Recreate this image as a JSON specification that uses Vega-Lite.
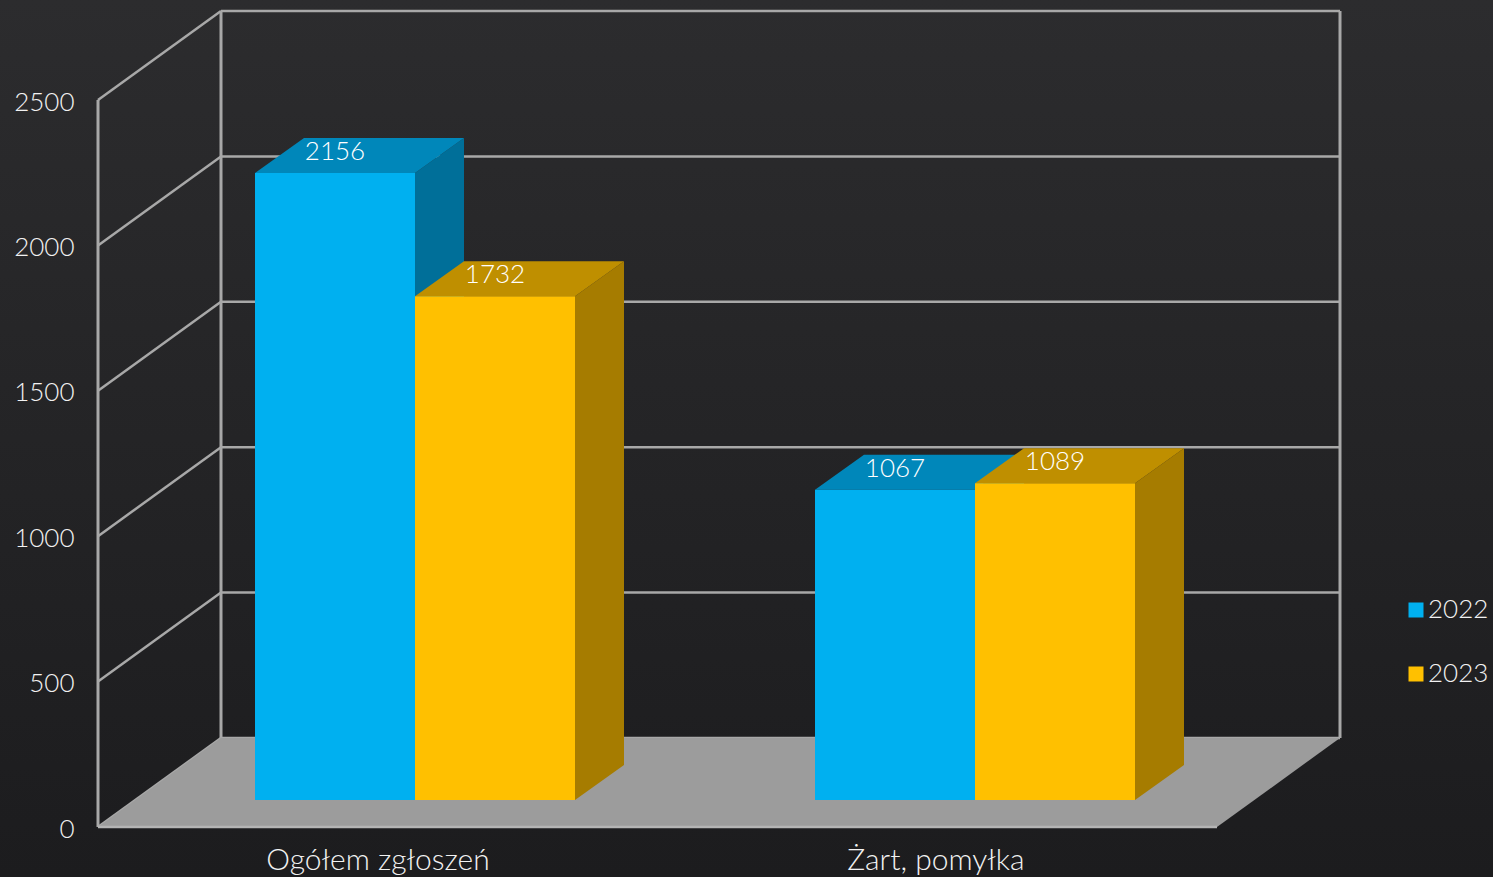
{"$schema":"https://vega.github.io/schema/vega-lite/v6.json","width":1493,"height":877,"padding":0,"autosize":{"type":"none"},"background":"#242426",
"config":{"view":{"stroke":null,"fill":{"gradient":"linear","x1":0,"y1":0,"x2":0,"y2":1,"stops":[{"offset":0,"color":"#2c2c2e"},{"offset":1,"color":"#1c1c1e"}]}},"axisY":{"orient":"left","offset":-74,"domain":false,"ticks":false,"grid":false,"labelPadding":0,"labelOffset":2,"labelFont":"Lato","labelFontWeight":300,"labelFontSize":26,"labelColor":"#f2f2f2","format":"d"}},
"datasets":{"bars":[{"category":"Ogółem zgłoszeń","year":"2022","value":2156},{"category":"Ogółem zgłoszeń","year":"2023","value":1732},{"category":"Żart, pomyłka","year":"2022","value":1067},{"category":"Żart, pomyłka","year":"2023","value":1089}],"ticks":[{"tick":0},{"tick":500},{"tick":1000},{"tick":1500},{"tick":2000},{"tick":2500}]},
"layer":[
{"data":{"name":"ticks"},"transform":[{"calculate":"datum.tick+306.05","as":"backY"},{"calculate":"221","as":"xa"},{"calculate":"1340","as":"xb"}],"mark":{"type":"rule","color":"#a8a8a8","strokeWidth":2.5},
"encoding":{"x":{"field":"xa","type":"quantitative","scale":{"domain":[0,1493],"nice":false,"zero":false},"axis":null},"x2":{"field":"xb"},
"y":{"field":"backY","type":"quantitative","title":null,"scale":{"domain":[-171.9,2843.9],"nice":false,"zero":false},"axis":{"values":[0,500,1000,1500,2000,2500],"format":"d"}}}},
{"data":{"name":"ticks"},"transform":[{"calculate":"datum.tick+306.05","as":"backY"},{"calculate":"98","as":"xa"},{"calculate":"221","as":"xb"}],"mark":{"type":"rule","color":"#a8a8a8","strokeWidth":2.5},
"encoding":{"x":{"field":"xa","type":"quantitative","axis":null},"x2":{"field":"xb"},"y":{"field":"tick","type":"quantitative","title":null},"y2":{"field":"backY"}}},
{"data":{"name":"ticks"},"transform":[{"filter":"datum.tick===2500"},{"calculate":"98","as":"front"},{"calculate":"221","as":"backLeft"},{"calculate":"1340","as":"backRight"},{"fold":["front","backLeft","backRight"],"as":["wall","wx"]},{"calculate":"datum.wall==='front'?0:306.05","as":"low"},{"calculate":"datum.low+datum.tick","as":"high"}],"mark":{"type":"rule","color":"#a8a8a8","strokeWidth":3},
"encoding":{"x":{"field":"wx","type":"quantitative","axis":null},"y":{"field":"low","type":"quantitative","title":null},"y2":{"field":"high"}}},
{"data":{"name":"ticks"},"transform":[{"filter":"datum.tick===0"},{"calculate":"98","as":"v0"},{"calculate":"221","as":"v1"},{"calculate":"1217","as":"v2"},{"calculate":"1340","as":"v3"},{"fold":["v0","v1","v2","v3"],"as":["vertex","vx"]},{"calculate":"datum.vertex==='v3'?306.05:0","as":"low"},{"calculate":"datum.vertex==='v0'?0:306.05","as":"high"}],"mark":{"type":"area","orient":"vertical","color":"#9c9c9c","opacity":1},
"encoding":{"x":{"field":"vx","type":"quantitative","axis":null},"y":{"field":"low","type":"quantitative","title":null},"y2":{"field":"high"}}},
{"data":{"name":"ticks"},"transform":[{"filter":"datum.tick===0"},{"calculate":"98","as":"xa"},{"calculate":"1217","as":"xb"}],"mark":{"type":"rule","color":"#b4b4b4","strokeWidth":2.5},
"encoding":{"x":{"field":"xa","type":"quantitative","axis":null},"x2":{"field":"xb"},"y":{"field":"tick","type":"quantitative","title":null}}},
{"data":{"name":"bars"},
"transform":[{"calculate":"datum.category==='Ogółem zgłoszeń'?0:1","as":"ci"},{"calculate":"datum.year==='2022'?0:1","as":"yi"},{"calculate":"255+560*datum.ci+160*datum.yi","as":"x0"},{"calculate":"datum.x0+49","as":"x0b"},{"calculate":"datum.x0+160","as":"x1"},{"calculate":"datum.x1+49","as":"x1b"},{"calculate":"92.85","as":"base"},{"calculate":"datum.base+datum.value","as":"top"},{"calculate":"datum.category+datum.year","as":"bar"},{"calculate":"datum.x0+80","as":"xc"}],
"layer":[
{"transform":[{"fold":["x1","x1b"],"as":["vertex","vx"]},{"calculate":"datum.base+(datum.vertex==='x1b'?120.36:0)","as":"low"},{"calculate":"datum.top+(datum.vertex==='x1b'?120.36:0)","as":"high"}],"mark":{"type":"area","orient":"vertical","opacity":1},
"encoding":{"x":{"field":"vx","type":"quantitative","axis":null},"y":{"field":"low","type":"quantitative","title":null},"y2":{"field":"high"},"detail":{"field":"bar"},"color":{"field":"year","type":"nominal","scale":{"domain":["2022","2023"],"range":["#006f99","#a67c00"]},"legend":null}}},
{"transform":[{"fold":["x0","x0b","x1","x1b"],"as":["vertex","vx"]},{"calculate":"datum.top+(datum.vertex==='x1b'?120.36:0)","as":"low"},{"calculate":"datum.top+(datum.vertex==='x0'?0:120.36)","as":"high"}],"mark":{"type":"area","orient":"vertical","opacity":1},
"encoding":{"x":{"field":"vx","type":"quantitative","axis":null},"y":{"field":"low","type":"quantitative","title":null},"y2":{"field":"high"},"detail":{"field":"bar"},"color":{"field":"year","type":"nominal","scale":{"domain":["2022","2023"],"range":["#0087ba","#bf8f00"]},"legend":null}}},
{"mark":{"type":"rect","opacity":1},
"encoding":{"x":{"field":"x0","type":"quantitative","axis":null},"x2":{"field":"x1"},"y":{"field":"base","type":"quantitative","title":null},"y2":{"field":"top"},"color":{"field":"year","type":"nominal","scale":{"domain":["2022","2023"],"range":["#00b0f0","#ffc000"]},"legend":{"orient":"none","legendX":1403,"legendY":597,"title":null,"symbolType":"square","symbolSize":225,"symbolOpacity":1,"symbolStrokeWidth":0,"labelFont":"Lato","labelFontWeight":300,"labelFontSize":26,"labelColor":"#f2f2f2","labelOffset":-1,"rowPadding":38,"labelLimit":200}}}},
{"mark":{"type":"text","font":"Lato","fontWeight":300,"fontSize":26,"color":"#ffffff","dy":-13,"baseline":"alphabetic"},
"encoding":{"x":{"field":"xc","type":"quantitative","axis":null},"y":{"field":"top","type":"quantitative","title":null},"text":{"field":"value","type":"quantitative","format":"d"}}},
{"transform":[{"filter":"datum.year==='2022'"},{"calculate":"378+558*datum.ci","as":"lx"},{"calculate":"-147","as":"ly"}],"mark":{"type":"text","font":"Lato","fontWeight":300,"fontSize":30,"color":"#f2f2f2","baseline":"alphabetic"},
"encoding":{"x":{"field":"lx","type":"quantitative","axis":null},"y":{"field":"ly","type":"quantitative","title":null},"text":{"field":"category","type":"nominal"}}}
],"resolve":{"scale":{"color":"independent"}}}
]}
